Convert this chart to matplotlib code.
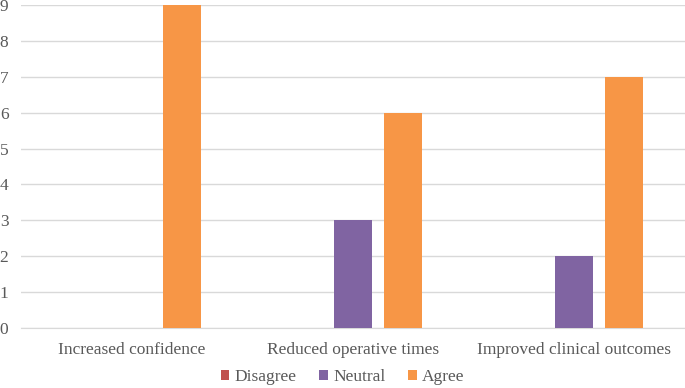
import numpy as np
import matplotlib.pyplot as plt

categories = ['Increased confidence', 'Reduced operative times', 'Improved clinical outcomes']
disagree = [0, 0, 0]
neutral = [0, 3, 2]
agree = [9, 6, 7]

plt.rcParams['font.family'] = ['Liberation Serif', 'DejaVu Serif']
txt = '#595959'

fig = plt.figure(figsize=(6.85, 3.88), dpi=100)
ax = fig.add_axes([21 / 685, 60 / 388, 664 / 685, 323 / 388])

x = np.arange(len(categories))
w = 0.172
off = 0.226
ax.bar(x - off, disagree, w, color='#C0504D', label='Disagree', zorder=3)
ax.bar(x, neutral, w, color='#8064A2', label='Neutral', zorder=3)
ax.bar(x + off, agree, w, color='#F79646', label='Agree', zorder=3)

ax.set_xlim(-0.5, 2.5)
ax.set_ylim(0, 9)
ax.set_yticks(range(10))
ax.yaxis.grid(True, color='#D9D9D9', linewidth=1, zorder=0)
for s in ['top', 'right', 'left']:
    ax.spines[s].set_visible(False)
ax.spines['bottom'].set_color('#D9D9D9')
ax.set_xticks(x)
ax.set_xticklabels(categories)
ax.tick_params(axis='both', length=0, colors=txt, labelsize=12.5)
ax.tick_params(axis='y', pad=9)
ax.tick_params(axis='x', pad=10)

leg = fig.legend(loc='lower center', bbox_to_anchor=(0.5, -0.032), ncol=3, frameon=False,
                 fontsize=12.5, handlelength=0.5, handleheight=0.5, handletextpad=0.3,
                 columnspacing=1.3)
for t in leg.get_texts():
    t.set_color(txt)

fig.savefig('out.png', dpi=100)
